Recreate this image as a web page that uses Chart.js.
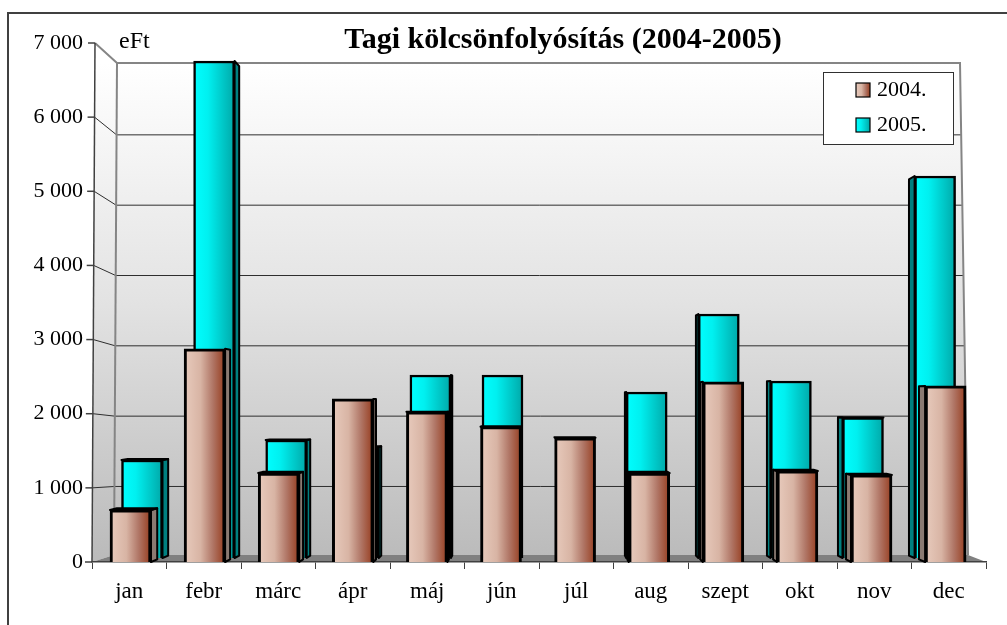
<!DOCTYPE html>
<html>
<head>
<meta charset="utf-8">
<style>html,body{margin:0;padding:0;background:#fff}canvas{display:block}</style>
<script src="https://cdn.jsdelivr.net/npm/chart.js@4"></script>
</head>
<body>
<canvas id="c" width="1007" height="625"></canvas>
<script>
const categories = ['jan','febr','márc','ápr','máj','jún','júl','aug','szept','okt','nov','dec'];
const values2004 = [702,2875,1200,2200,2025,1825,1676,1200,2430,1228,1175,2375];
const values2005 = [1367,6932,1646,1548,2552,2552,null,2315,3403,2469,1959,5328];
const seriesNames = ['2004.','2005.'];
const yTickValues = [0,1000,2000,3000,4000,5000,6000,7000];
const yTickLabels = ['0','1 000','2 000','3 000','4 000','5 000','6 000','7 000'];
const titleText = 'Tagi kölcsönfolyósítás (2004-2005)';
const unitText = 'eFt';

const FONT = '"Liberation Serif","Times New Roman",serif';
const stops2004 = [[0,'#e8cbbd'],[0.4,'#d8b4a4'],[0.7,'#b07666'],[1,'#963c1e']];
const stops2005 = [[0,'#00ffff'],[0.35,'#00f0f0'],[1,'#00a8a8']];
const BAR_W = 41;

function grad(ctx, x, w, stops){
  const g = ctx.createLinearGradient(x-w/2,0,x+w/2,0);
  stops.forEach(s=>g.addColorStop(s[0],s[1]));
  return g;
}
function scripted(axisId, stops){
  return c=>{
    const sc = c.chart.scales[axisId];
    if(!sc || c.dataIndex===undefined) return stops[0][1];
    const px = sc.getPixelForValue(c.dataIndex);
    if(!Number.isFinite(px)) return stops[0][1];
    return grad(c.chart.ctx, px, BAR_W, stops);
  };
}
function lerp(a,b,t){return a+(b-a)*t;}
const axisX = y=>lerp(95,92,(y-43)/519);
const wallL = y=>lerp(117,114,(y-63)/493);
const wallR = y=>lerp(960,968,(y-63)/493);
function poly(ctx, pts){
  ctx.beginPath();
  pts.forEach((p,i)=>i?ctx.lineTo(p[0],p[1]):ctx.moveTo(p[0],p[1]));
  ctx.closePath();
}

const wallPlugin = {
  id:'wall',
  beforeDraw(chart){
    const ctx = chart.ctx, yF = chart.scales.y, yB = chart.scales.yWall;
    ctx.save();
    const g = ctx.createLinearGradient(0,63,0,556);
    g.addColorStop(0,'#ffffff'); g.addColorStop(0.48,'#e3e3e3'); g.addColorStop(1,'#bbbbbb');
    ctx.fillStyle = g;
    poly(ctx,[[117,63],[960,63],[968,555],[114,555]]); ctx.fill();
    poly(ctx,[[95,43],[117,63],[114,555],[92,562]]); ctx.fill();
    ctx.fillStyle = '#808080';
    poly(ctx,[[114,555],[968,555],[986,562],[92,562]]); ctx.fill();
    // grid
    yTickValues.forEach(v=>{
      const yb = yB.getPixelForValue(v), yf = yF.getPixelForValue(v);
      if(v===0||v===7000) return;
      ctx.strokeStyle = '#2e2e2e'; ctx.lineWidth = 1;
      ctx.beginPath(); ctx.moveTo(wallL(yb),yb+0.5); ctx.lineTo(wallR(yb),yb+0.5); ctx.stroke();
      ctx.beginPath(); ctx.moveTo(axisX(yf),yf); ctx.lineTo(wallL(yb),yb+0.5); ctx.stroke();
    });
    // wall outline
    ctx.strokeStyle = '#858585'; ctx.lineWidth = 2;
    ctx.beginPath(); ctx.moveTo(95,43); ctx.lineTo(117,63); ctx.lineTo(960,63); ctx.lineTo(968,555); ctx.stroke();
    ctx.beginPath(); ctx.moveTo(117,63); ctx.lineTo(114,555); ctx.stroke();
    // slanted value axis and ticks
    ctx.strokeStyle = '#404040'; ctx.lineWidth = 1.5;
    ctx.beginPath(); ctx.moveTo(95,43); ctx.lineTo(92,562); ctx.stroke();
    yTickValues.forEach(v=>{
      const yf = yF.getPixelForValue(v), x = axisX(yf);
      ctx.beginPath(); ctx.moveTo(x-7,yf); ctx.lineTo(x,yf); ctx.stroke();
    });
    ctx.restore();
  },
  beforeDatasetDraw(chart,args){
    const i = args.index, ctx = chart.ctx, meta = args.meta;
    const k = i===0 ? 0.016 : 0.015, vx = 540, vy = 400;
    const data = chart.data.datasets[i].data;
    ctx.save();
    ctx.lineJoin = 'round';
    ctx.strokeStyle = '#000'; ctx.lineWidth = 2;
    ctx.fillStyle = i===0 ? '#8a7a72' : '#008080';
    meta.data.forEach((el,idx)=>{
      if(data[idx].y===null) return;
      const L = el.x-BAR_W/2, R = el.x+BAR_W/2, T = el.y, B = el.base;
      const off = (x,y)=>[x+(vx-x)*k, y+(vy-y)*k];
      if(R<vx || L>vx){
        const E = R<vx ? R : L;
        if(Math.abs(vx-E)*k>0.8){
          poly(ctx,[[E,T],off(E,T),off(E,B),[E,B]]); ctx.fill(); ctx.stroke();
        }
      }
      if(T>vy){
        poly(ctx,[[L,T],off(L,T),off(R,T),[R,T]]); ctx.fill(); ctx.stroke();
      }
    });
    ctx.restore();
  },
  afterDraw(chart){
    const ctx = chart.ctx;
    ctx.save();
    // frame
    ctx.strokeStyle = '#404040'; ctx.lineWidth = 2;
    ctx.beginPath(); ctx.moveTo(8,625); ctx.lineTo(8,13); ctx.lineTo(1007,13); ctx.stroke();
    // title + unit
    ctx.fillStyle = '#000'; ctx.textBaseline = 'middle';
    ctx.textAlign = 'center'; ctx.font = 'bold 30px '+FONT;
    ctx.fillText(titleText,563,40);
    ctx.textAlign = 'left'; ctx.font = '24px '+FONT;
    ctx.fillText(unitText,119,42);
    // legend
    ctx.fillStyle = '#fff'; ctx.fillRect(823,72,130,72);
    ctx.strokeStyle = '#303030'; ctx.lineWidth = 1; ctx.strokeRect(823.5,72.5,130,72);
    ctx.font = '22px '+FONT;
    [stops2004,stops2005].forEach((st,i)=>{
      const y = 83+35*i;
      ctx.fillStyle = grad(ctx,863,14,st);
      ctx.fillRect(856,y,14,14);
      ctx.strokeStyle = '#000'; ctx.lineWidth = 1.2; ctx.strokeRect(856,y,14,14);
      ctx.fillStyle = '#000';
      ctx.fillText(seriesNames[i],877,y+7);
    });
    ctx.restore();
  }
};

const toPoints = arr => arr.map((v,i)=>({x:i,y:v}));

new Chart(document.getElementById('c'),{
  type:'bar',
  plugins:[wallPlugin],
  data:{
    labels:categories,
    datasets:[
      {label:seriesNames[0],data:toPoints(values2004),xAxisID:'x04',yAxisID:'y',grouped:false,
       backgroundColor:scripted('x04',stops2004),borderColor:'#000',borderWidth:3,barThickness:BAR_W},
      {label:seriesNames[1],data:toPoints(values2005),xAxisID:'x05',yAxisID:'y05',grouped:false,
       backgroundColor:scripted('x05',stops2005),borderColor:'#000',borderWidth:2.5,barThickness:BAR_W}
    ]
  },
  options:{
    responsive:false,animation:false,
    layout:{padding:{top:43,right:21,left:0,bottom:0}},
    plugins:{legend:{display:false},title:{display:false},tooltip:{enabled:false}},
    scales:{
      x:{type:'category',labels:categories,position:'bottom',offset:true,
         afterFit:s=>{s.height=63;},
         grid:{drawOnChartArea:false,drawTicks:true,tickLength:7,offset:true,color:'#404040'},
         border:{display:true,color:'#404040',width:1.5},
         ticks:{color:'#000',font:{family:FONT,size:23},padding:9,maxRotation:0,autoSkip:false}},
      x04:{type:'linear',display:false,offset:false,min:-0.5196,max:11.545},
      x05:{type:'linear',display:false,offset:false,min:-0.6935,max:11.706},
      y:{type:'linear',position:'left',min:0,max:7000,
         afterFit:s=>{s.width=92;},
         afterBuildTicks:s=>{s.ticks=yTickValues.map(v=>({value:v}));},
         grid:{display:false},border:{display:false},
         ticks:{color:'#000',font:{family:FONT,size:22},padding:1,
                callback:v=>yTickLabels[yTickValues.indexOf(v)]}},
      y05:{type:'linear',display:false,min:-55.8,max:7183},
      yWall:{type:'linear',display:false,min:-81,max:7299}
    }
  }
});
</script>
</body>
</html>
